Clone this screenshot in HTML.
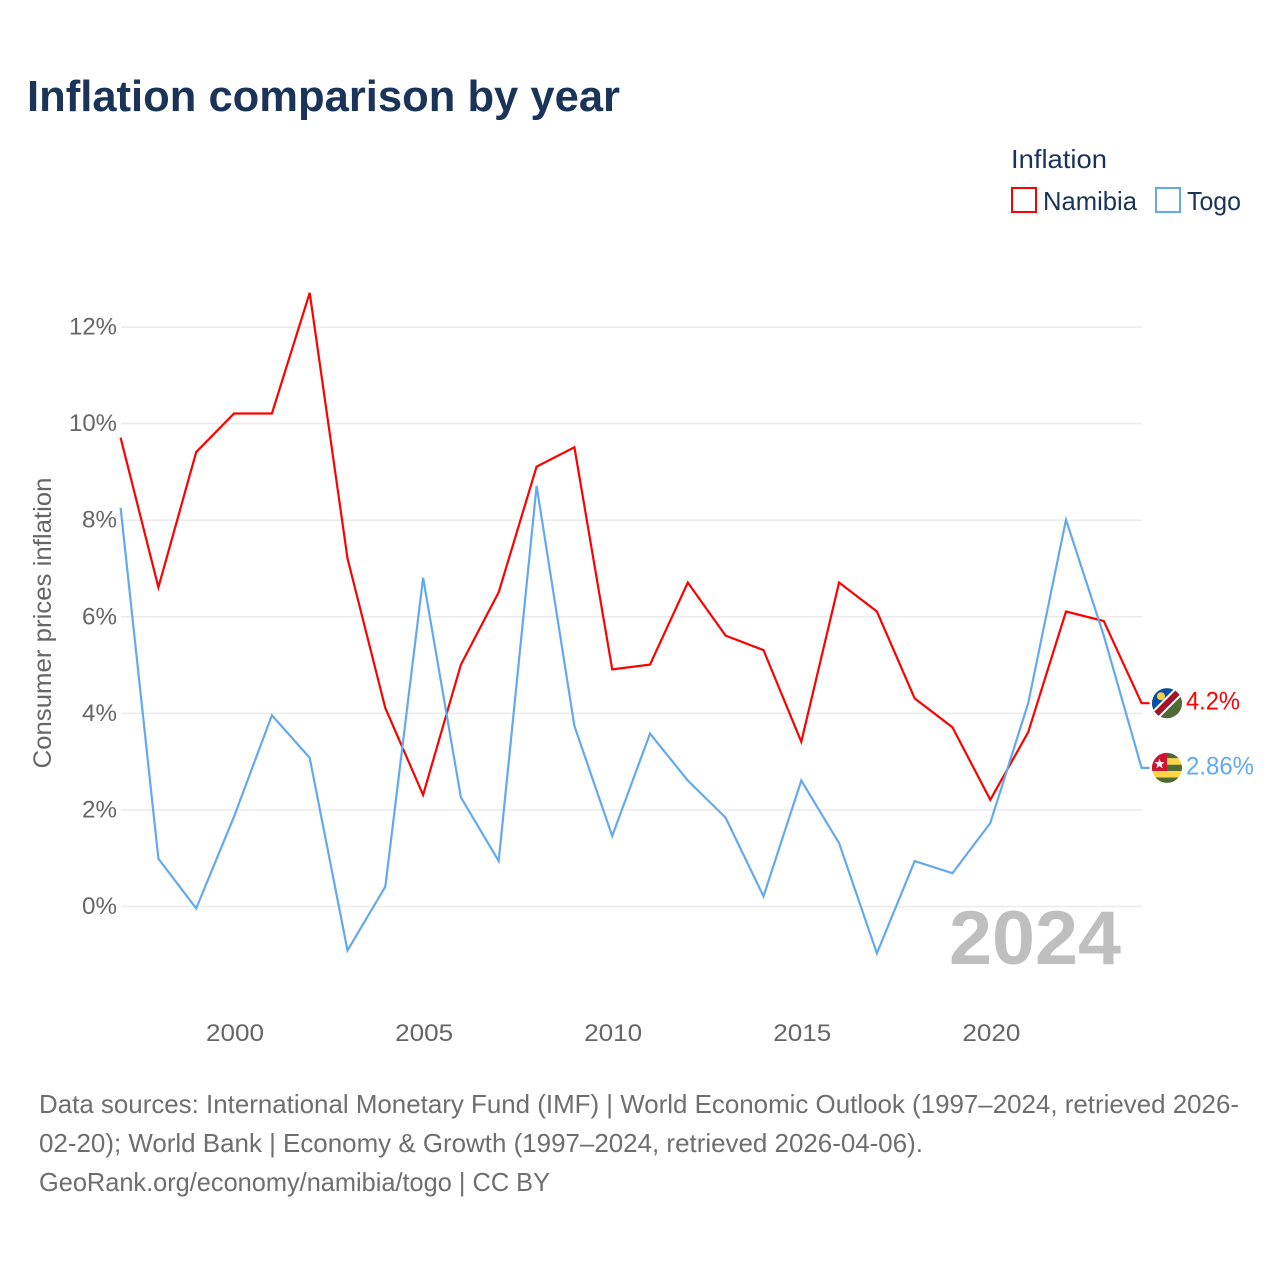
<!DOCTYPE html>
<html lang="en">
<head>
<meta charset="utf-8">
<title>Inflation comparison by year</title>
<style>
html,body{margin:0;padding:0;background:#fff}
svg{display:block}
text{font-family:"Liberation Sans",sans-serif}
</style>
</head>
<body>
<svg id="chart" xmlns="http://www.w3.org/2000/svg" width="1280" height="1280" viewBox="0 0 1280 1280">
<rect width="1280" height="1280" fill="#fff"/>
<text x="27" y="111" font-size="44" font-weight="700" fill="#1a3358" textLength="593" lengthAdjust="spacingAndGlyphs">Inflation comparison by year</text>
<g>
<text x="1011" y="168" font-size="26" fill="#1a3358" textLength="96" lengthAdjust="spacingAndGlyphs">Inflation</text>
<rect x="1012" y="188" width="24" height="24" fill="#fff" stroke="#ff0000" stroke-width="2"/>
<text x="1043" y="210" font-size="26" fill="#1a3358" textLength="94" lengthAdjust="spacingAndGlyphs">Namibia</text>
<rect x="1156" y="188" width="24" height="24" fill="#fff" stroke="#63a9ef" stroke-width="2"/>
<text x="1187" y="210" font-size="26" fill="#1a3358" textLength="54" lengthAdjust="spacingAndGlyphs">Togo</text>
</g>
<text transform="translate(51,623) rotate(-90)" text-anchor="middle" font-size="25" fill="#666" textLength="291" lengthAdjust="spacingAndGlyphs">Consumer prices inflation</text>
<g id="grid"></g>
<g id="ylabels"></g>
<g id="xlabels"></g>
<text x="1121" y="964" text-anchor="end" font-size="76" font-weight="700" fill="#bfbfbf" textLength="172" lengthAdjust="spacingAndGlyphs">2024</text>
<g id="series"></g>
<defs>
<clipPath id="clip-namibia"><circle id="clip-na-c" cx="1167" r="15"/></clipPath>
<clipPath id="clip-togo"><circle id="clip-tg-c" cx="1167" r="15"/></clipPath>
</defs>
<g id="flag-namibia" clip-path="url(#clip-namibia)"></g>
<g id="flag-togo" clip-path="url(#clip-togo)"></g>
<g id="endlabels"></g>
<g font-size="26" fill="#6e6e6e">
<text x="39" y="1113" textLength="1200" lengthAdjust="spacingAndGlyphs">Data sources: International Monetary Fund (IMF) | World Economic Outlook (1997–2024, retrieved 2026-</text>
<text x="39" y="1152" textLength="884" lengthAdjust="spacingAndGlyphs">02-20); World Bank | Economy &amp; Growth (1997–2024, retrieved 2026-04-06).</text>
<text x="39" y="1191" textLength="511" lengthAdjust="spacingAndGlyphs">GeoRank.org/economy/namibia/togo | CC BY</text>
</g>
</svg>
<script>
const years = [1997,1998,1999,2000,2001,2002,2003,2004,2005,2006,2007,2008,2009,2010,2011,2012,2013,2014,2015,2016,2017,2018,2019,2020,2021,2022,2023,2024];
const namibia = [9.7,6.6,9.4,10.2,10.2,12.7,7.2,4.1,2.3,5.0,6.5,9.1,9.5,4.9,5.0,6.7,5.6,5.3,3.4,6.7,6.1,4.3,3.7,2.2,3.6,6.1,5.9,4.2];
const togo = [8.25,0.98,-0.05,1.85,3.95,3.07,-0.92,0.4,6.8,2.25,0.93,8.7,3.73,1.45,3.57,2.6,1.83,0.2,2.6,1.3,-0.98,0.93,0.68,1.72,4.2,8.0,5.6,2.86];
const yTicks = [0,2,4,6,8,10,12];
const xTicks = [2000,2005,2010,2015,2020];

const NS = 'http://www.w3.org/2000/svg';
const xScale = v => 120.6 + (v - 1997) * (1141.6 - 120.6) / 27;
const yScale = v => 906 - v * (906 - 326.6) / 12;
function mk(parent, tag, attrs, txt) {
  const el = document.createElementNS(NS, tag);
  for (const k in attrs) el.setAttribute(k, attrs[k]);
  if (txt !== undefined) el.textContent = txt;
  parent.appendChild(el);
  return el;
}
const grid = document.getElementById('grid');
const yl = document.getElementById('ylabels');
const xl = document.getElementById('xlabels');
const series = document.getElementById('series');
const endl = document.getElementById('endlabels');

yTicks.forEach(t => {
  const line = mk(grid, 'line', {x1:121, x2:1142, y1:yScale(t)+0.5, y2:yScale(t)+0.5, stroke:'#ebebeb', 'stroke-width':1.5});
  
  
  const label = mk(yl, 'text', {x:117, y:yScale(t)+8, 'text-anchor':'end', 'font-size':24, fill:'#666', textLength:(String(t).length===1?35:48), lengthAdjust:'spacingAndGlyphs'}, t + '%');
  
  
});
xTicks.forEach(t => {
  const label = mk(xl, 'text', {x:xScale(t)+1, y:1041, 'text-anchor':'middle', 'font-size':24, fill:'#666', textLength:58, lengthAdjust:'spacingAndGlyphs'}, String(t));
  
  
});

function drawSeries(values, color, name) {
  const lastY = yScale(values[values.length - 1]);
  const pts = values.map((v, i) => xScale(years[i]).toFixed(1) + ',' + yScale(v).toFixed(1));
  pts.push((xScale(years[years.length - 1]) + 8).toFixed(1) + ',' + lastY.toFixed(1));
  const line = mk(series, 'polyline', {points:pts.join(' '), fill:'none', stroke:color, 'stroke-width':2.2, 'stroke-linejoin':'miter'});
  
  
  return lastY;
}
const naY = drawSeries(namibia, '#ff0000', 'line-namibia');
const tgY = drawSeries(togo, '#63a9ef', 'line-togo');

const naLabel = mk(endl, 'text', {x:1186, y:naY+6.5, 'font-size':25, fill:'#ff0000', textLength:54, lengthAdjust:'spacingAndGlyphs'}, namibia[namibia.length-1] + '%');


const tgLabel = mk(endl, 'text', {x:1186, y:tgY+6.5, 'font-size':25, fill:'#63a9ef', textLength:68, lengthAdjust:'spacingAndGlyphs'}, togo[togo.length-1] + '%');



/* flags follow the last data value */
document.getElementById('clip-na-c').setAttribute('cy', naY);
document.getElementById('clip-tg-c').setAttribute('cy', tgY);
const fn = document.getElementById('flag-namibia');
const cx = 1167, ny = naY;
mk(fn, 'rect', {x:cx-16, y:ny-16, width:32, height:32, fill:'#4d6b32'});
mk(fn, 'polygon', {points:`${cx-16},${ny-16} ${cx+14},${ny-16} ${cx-16},${ny+14}`, fill:'#0a4ea8'});
mk(fn, 'line', {x1:cx-16, y1:ny+16, x2:cx+16, y2:ny-16, stroke:'#fff', 'stroke-width':10});
mk(fn, 'line', {x1:cx-16, y1:ny+16, x2:cx+16, y2:ny-16, stroke:'#a5122a', 'stroke-width':6});
mk(fn, 'circle', {cx:cx-6, cy:ny-7, r:4, fill:'#ffce3d'});
const ft = document.getElementById('flag-togo');
const ty = tgY;
[['#4d6b32',-16,6.4],['#ffd548',-9.6,6.4],['#4d6b32',-3.2,6.4],['#ffd548',3.2,6.4],['#4d6b32',9.6,6.4]].forEach(s => {
  mk(ft, 'rect', {x:cx-16, y:ty+s[1], width:32, height:s[2], fill:s[0]});
});
mk(ft, 'rect', {x:cx-16, y:ty-16, width:16, height:19, fill:'#d2102f'});
const star = [];
for (let i = 0; i < 10; i++) {
  const r = i % 2 ? 2.2 : 5.4, a = -Math.PI / 2 + i * Math.PI / 5;
  star.push((cx - 7.5 + r * Math.cos(a)).toFixed(1) + ',' + (ty - 4 + r * Math.sin(a)).toFixed(1));
}
mk(ft, 'polygon', {points:star.join(' '), fill:'#fff'});
</script>
</body>
</html>
